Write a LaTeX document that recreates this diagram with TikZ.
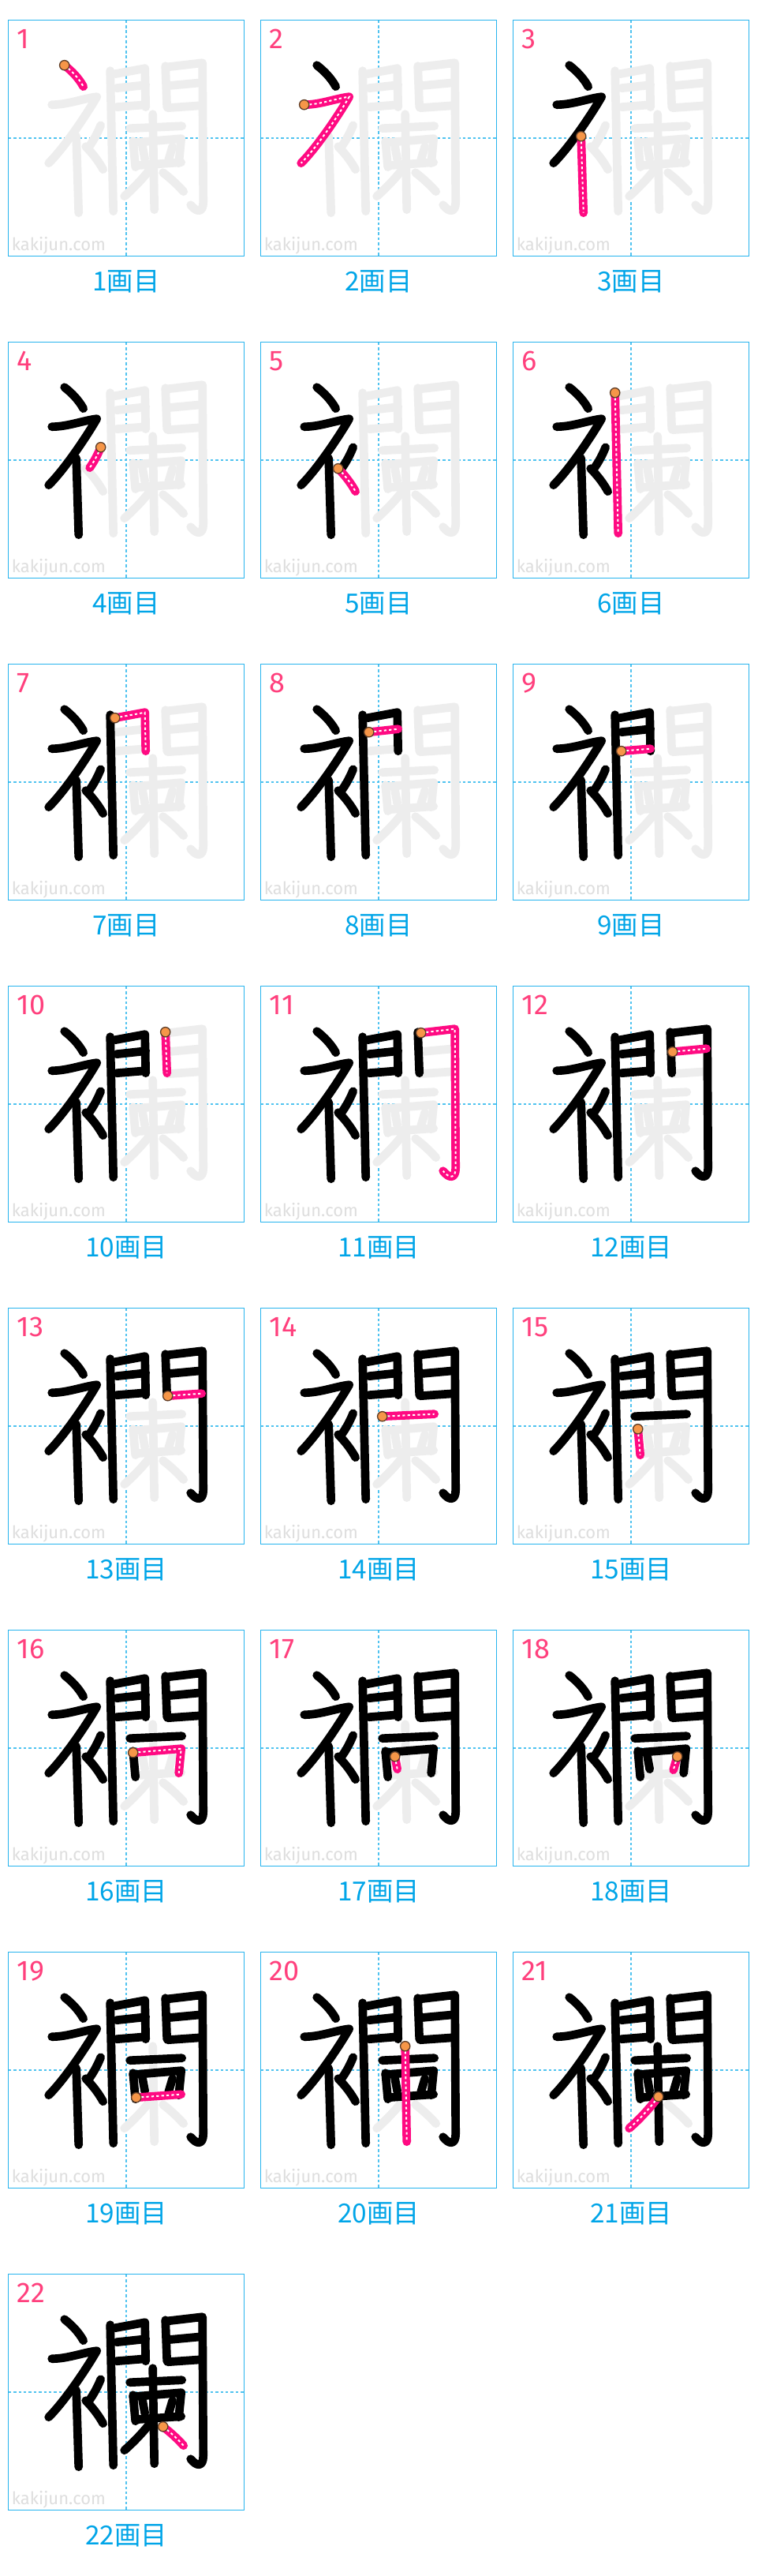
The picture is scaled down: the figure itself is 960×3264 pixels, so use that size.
\documentclass[tikz,border=0pt]{standalone}
\usepackage{fontspec}
\setmainfont{Fira Sans}
\newfontfamily\cjk{Noto Sans CJK JP}
\definecolor{ghostc}{RGB}{237,237,237}
\definecolor{pinkc}{RGB}{255,10,130}
\definecolor{numc}{RGB}{255,64,125}
\definecolor{capc}{RGB}{0,165,232}
\definecolor{borderc}{RGB}{40,180,238}
\definecolor{centerc}{RGB}{80,195,240}
\definecolor{markc}{RGB}{222,222,222}
\definecolor{dotc}{RGB}{246,150,72}
\definecolor{dotedge}{RGB}{95,62,40}
\newcommand\kp[1]{\ifcase#1\or
\def\kpath{(71,57) .. controls (80,64) and (89,73) .. (95,84)}\def\kstart{(71,57)}\or
\def\kpath{(55,107) .. controls (75,107) and (95,99) .. (112,97) .. controls (100,118) and (72,160) .. (51,181)}\def\kstart{(55,107)}\or
\def\kpath{(86,147) -- (89,244)}\def\kstart{(86,147)}\or
\def\kpath{(117,133) .. controls (113,143) and (108,152) .. (103,159)}\def\kstart{(117,133)}\or
\def\kpath{(98,160) .. controls (106,168) and (114,178) .. (120,189)}\def\kstart{(98,160)}\or
\def\kpath{(129,64) -- (133,242)}\def\kstart{(129,64)}\or
\def\kpath{(135,68) -- (173,61) -- (174,110)}\def\kstart{(135,68)}\or
\def\kpath{(137,86) -- (174,82)}\def\kstart{(137,86)}\or
\def\kpath{(137,110) -- (174,107)}\def\kstart{(137,110)}\or
\def\kpath{(199,58) -- (201,110)}\def\kstart{(199,58)}\or
\def\kpath{(203,59) -- (246,54) -- (247,230) .. controls (247,244) and (239,244) .. (231,234)}\def\kstart{(203,59)}\or
\def\kpath{(202,83) -- (245,79)}\def\kstart{(202,83)}\or
\def\kpath{(202,111) -- (245,108)}\def\kstart{(202,111)}\or
\def\kpath{(154,137) -- (220,134)}\def\kstart{(154,137)}\or
\def\kpath{(158,153) -- (161,186)}\def\kstart{(158,153)}\or
\def\kpath{(158,155) -- (219,150) -- (216,181)}\def\kstart{(158,155)}\or
\def\kpath{(170,160) -- (173,176)}\def\kstart{(170,160)}\or
\def\kpath{(208,160) -- (203,177)}\def\kstart{(208,160)}\or
\def\kpath{(162,184) -- (219,180)}\def\kstart{(162,184)}\or
\def\kpath{(183,119) -- (185,240)}\def\kstart{(183,119)}\or
\def\kpath{(184,183) .. controls (176,194) and (162,210) .. (147,223)}\def\kstart{(184,183)}\or
\def\kpath{(196,193) .. controls (205,200) and (214,208) .. (222,217)}\def\kstart{(196,193)}\fi}
\tikzset{
  kstroke/.style={line width=8pt,line cap=round,line join=round},
  ghoststroke/.style={kstroke,draw=ghostc},
  blackstroke/.style={kstroke,draw=black},
  pinkstroke/.style={kstroke,draw=pinkc},
  whitedash/.style={draw=white,line width=1.5pt,dash pattern=on 2.4pt off 2.4pt},
  startdot/.style={fill=dotc,draw=dotedge,line width=1pt},
  panelbox/.style={draw=borderc,line width=1.1pt},
  centerline/.style={draw=centerc,line width=1.1pt,dash pattern=on 2.6pt off 2.2pt},
  numlabel/.style={text=numc,font=\fontsize{27}{27}\selectfont,inner sep=0pt,anchor=north west},
  caplabel/.style={text=capc,font=\cjk\fontsize{25}{25}\selectfont,inner sep=0pt},
  watermark/.style={text=markc,font=\fontsize{16.5}{16.5}\selectfont,inner sep=0pt,anchor=base west}
}
\begin{document}
\begin{tikzpicture}[x=0.75pt,y=-0.75pt]
\useasboundingbox[fill=white] (0,0) rectangle (960,3264);
\foreach \n in {1,...,22}{
  \pgfmathtruncatemacro\rr{int((\n-1)/3)}
  \pgfmathtruncatemacro\cc{mod(\n-1,3)}
  \begin{scope}[shift={(10.7+320*\cc,25.7+408*\rr)}]
    \draw[panelbox] (0,0) rectangle (298.6,298.6);
    \draw[centerline] (149.3,0) -- (149.3,298.6);
    \draw[centerline] (0,149.3) -- (298.6,149.3);
    \node[watermark] (wm\n) at (4,292) {kakijun.com};
    \foreach \k in {1,...,22}{\kp{\k}\draw[ghoststroke] \kpath;}
    \pgfmathtruncatemacro\mm{\n-1}
    \ifnum\mm>0
      \foreach \k in {1,...,\mm}{\kp{\k}\draw[blackstroke] \kpath;}
    \fi
    \kp{\n}
    \draw[pinkstroke] \kpath;
    \draw[whitedash] \kpath;
    \path[startdot] \kstart circle[radius=4.6pt];
    \node[numlabel] (num\n) at (11,11.5) {\n};
    \node[caplabel] (cap\n) at (149.3,331) {\n{}画目};
  \end{scope}
}
\end{tikzpicture}
\end{document}
